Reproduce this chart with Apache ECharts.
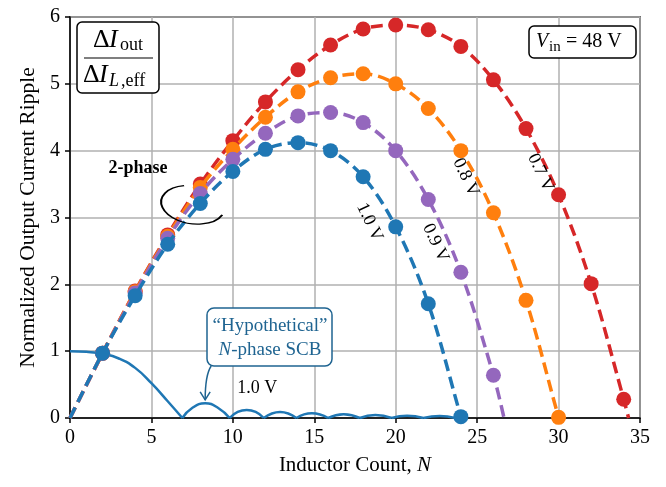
<!DOCTYPE html>
<html lang="en">
<head>
  <meta charset="UTF-8">
  <title>Normalized output current ripple</title>
  <script src="https://cdn.jsdelivr.net/npm/echarts@6/dist/echarts.min.js"></script>
  <style>
    body { margin: 0; background: #fff; }
  </style>
</head>
<body>
<div id="main" style="width: 666px;height:487px;"></div>
<script type="text/javascript">

  // measured points, N = 2, 4, 6 ...
  const nPoints = [2, 4, 6, 8, 10, 12, 14, 16, 18, 20, 22, 24, 26, 28, 30, 32, 34];
  const ripple07 = [0.97, 1.90, 2.74, 3.50, 4.15, 4.73, 5.21, 5.58, 5.82, 5.88, 5.81, 5.56, 5.06, 4.33, 3.34, 2.01, 0.28];
  const ripple08 = [0.97, 1.89, 2.72, 3.45, 4.02, 4.50, 4.88, 5.09, 5.15, 5.00, 4.63, 4.00, 3.07, 1.76, 0.01];
  const ripple09 = [0.97, 1.87, 2.69, 3.36, 3.87, 4.26, 4.52, 4.57, 4.42, 4.00, 3.27, 2.18, 0.64];
  const ripple10 = [0.97, 1.83, 2.60, 3.21, 3.69, 4.02, 4.12, 4.00, 3.61, 2.86, 1.71, 0.02];
  // where each dashed fit reaches the N axis again
  const fitEndN = [34.3, 30.05, 26.65, 24.05];
  const seriesNames = ['0.7 V', '0.8 V', '0.9 V', '1.0 V'];
  const colors = ['#d62728', '#ff7f0e', '#9467bd', '#1f77b4'];

  // "hypothetical" N-phase SCB curve (null = break between lobes)
  const scbN = [0, 1, 2, 3, 4, 5, 6, 6.9, 6.9, 6.9, 7.5, 8.3, 9.1, 9.8, 9.8,
    9.8, 10.3, 10.85, 11.4, 11.9, 11.9, 11.9, 12.9, 13.9, 13.9, 13.9, 14.85, 15.85, 15.85,
    15.85, 16.8, 17.8, 17.8, 17.8, 18.75, 19.75, 19.75, 19.75, 20.7, 21.7, 21.7, 21.7, 22.7, 23.65];
  const scbRipple = [1.0, 0.99, 0.96, 0.89, 0.75, 0.52, 0.25, 0, null, 0, 0.15, 0.22, 0.15, 0, null,
    0, 0.09, 0.12, 0.09, 0, null, 0, 0.09, 0, null, 0, 0.07, 0, null,
    0, 0.055, 0, null, 0, 0.045, 0, null, 0, 0.035, 0, null, 0, 0.03, 0];

  const xTicks = [0, 35, 5];   // min, max, interval
  const yTicks = [0, 6, 1];

  const serif = '"Liberation Serif", "DejaVu Serif", serif';
  var myChart = echarts.init(document.getElementById('main'));

  const ripples = [ripple07, ripple08, ripple09, ripple10];
  const fitSeries = ripples.map(function (vals, k) {
    let data = [{value: [0, 0], symbol: 'none'}];
    vals.forEach(function (v, i) { data.push([nPoints[i], v]); });
    data.push({value: [fitEndN[k], 0], symbol: 'none'});
    return {
      name: seriesNames[k],
      type: 'line',
      data: data,
      smooth: 0.35,
      symbol: 'circle',
      symbolSize: 15,
      showAllSymbol: true,
      color: colors[k],
      lineStyle: {width: 3.5, type: [12, 6]},
      itemStyle: {color: colors[k]},
      z: 3 + k,
      silent: true
    };
  });

  const scbSeries = {
    name: 'SCB',
    type: 'line',
    data: scbN.map(function (n, i) { return [n, scbRipple[i] === null ? '-' : scbRipple[i]]; }),
    smooth: 0.5,
    symbol: 'none',
    connectNulls: false,
    lineStyle: {width: 2.5, color: '#1f77b4'},
    z: 2,
    silent: true
  };

  const axisText = {color: '#000', fontFamily: serif, fontSize: 20};

  myChart.setOption({
    backgroundColor: '#fff',
    animation: false,
    grid: {left: 70, right: 26, top: 17, bottom: 69, show: true, borderColor: '#000', borderWidth: 1.5},
    xAxis: {
      type: 'value', min: xTicks[0], max: xTicks[1], interval: xTicks[2],
      name: 'Inductor Count, {i|N}', nameLocation: 'middle', nameGap: 37,
      nameTextStyle: Object.assign({}, axisText, {fontSize: 21, rich: {i: {fontStyle: 'italic', fontFamily: serif, fontSize: 21}}}),
      axisLine: {lineStyle: {color: '#000', width: 1.5}},
      axisTick: {length: 5, lineStyle: {color: '#000', width: 1.5}},
      axisLabel: Object.assign({margin: 10}, axisText),
      splitLine: {lineStyle: {color: '#b0b0b0', width: 1.5}}
    },
    yAxis: {
      type: 'value', min: yTicks[0], max: yTicks[1], interval: yTicks[2],
      name: 'Normalized Output Current Ripple', nameLocation: 'middle', nameGap: 30,
      nameTextStyle: Object.assign({}, axisText, {fontSize: 21.5}),
      axisLine: {lineStyle: {color: '#000', width: 1.5}},
      axisTick: {length: 5, lineStyle: {color: '#000', width: 1.5}},
      axisLabel: Object.assign({margin: 10}, axisText),
      splitLine: {lineStyle: {color: '#b0b0b0', width: 1.5}}
    },
    series: [scbSeries].concat(fitSeries)
  });

  // annotations
  function txt(x, y, s, size, extra) {
    return {
      type: 'text', x: x, y: y, z: 50,
      style: Object.assign({text: s, fontFamily: serif, fontSize: size, fill: '#000',
        align: 'left', verticalAlign: 'middle'}, extra || {})
    };
  }
  const px = function (n, v) { return myChart.convertToPixel({gridIndex: 0}, [n, v]); };

  let g = [];
  // fraction box
  g.push({type: 'rect', z: 40, shape: {x: 77, y: 22, width: 82, height: 71, r: 5},
    style: {fill: '#fff', stroke: '#000', lineWidth: 1.5}});
  g.push(txt(93, 40, 'Δ', 26));
  g.push(txt(109, 40, 'I', 26, {fontStyle: 'italic'}));
  g.push(txt(120, 45, 'out', 18));
  g.push({type: 'line', z: 50, shape: {x1: 84, y1: 58, x2: 153, y2: 58}, style: {stroke: '#000', lineWidth: 1.2}});
  g.push(txt(83, 75, 'Δ', 26));
  g.push(txt(99, 75, 'I', 26, {fontStyle: 'italic'}));
  g.push(txt(109, 81, 'L', 18, {fontStyle: 'italic'}));
  g.push(txt(121, 81, ',eff', 18));

  // Vin box
  g.push({type: 'rect', z: 40, shape: {x: 529, y: 26, width: 107, height: 32, r: 5},
    style: {fill: '#fff', stroke: '#000', lineWidth: 1.5}});
  g.push(txt(536, 42, 'V', 20, {fontStyle: 'italic'}));
  g.push(txt(549, 47, 'in', 15));
  g.push(txt(566, 42, '= 48 V', 20));

  // hypothetical SCB box + arrow
  const scbColor = '#1f6491';
  g.push({type: 'rect', z: 40, shape: {x: 207, y: 308, width: 125, height: 58, r: 7},
    style: {fill: '#fff', stroke: scbColor, lineWidth: 1.5}});
  g.push(txt(270, 326, '\u201CHypothetical\u201D', 19, {fill: scbColor, align: 'center'}));
  g.push(txt(270, 350, '{i|N}-phase SCB', 19, {fill: scbColor, align: 'center',
    rich: {i: {fontStyle: 'italic', fontFamily: serif, fontSize: 19, fill: scbColor}}}));
  const tip = px(8.3, 0.27);
  g.push({type: 'bezierCurve', z: 50,
    shape: {x1: tip[0] + 6, y1: 366, cpx1: tip[0], cpy1: 375, x2: tip[0], y2: tip[1]},
    style: {stroke: scbColor, lineWidth: 1.5, fill: null}});
  g.push({type: 'polyline', z: 50,
    shape: {points: [[tip[0] - 5, tip[1] - 8], tip, [tip[0] + 5, tip[1] - 8]]},
    style: {stroke: scbColor, lineWidth: 1.5, fill: null}});
  const lab = px(11.5, 0.45);
  g.push(txt(lab[0], lab[1], '1.0 V', 18, {align: 'center'}));

  // rotated voltage labels along the fits
  const labelAt = [[28.9, 3.67], [24.3, 3.6], [22.45, 2.62], [18.4, 2.93]];
  labelAt.forEach(function (p, k) {
    const q = px(p[0], p[1]);
    g.push({type: 'text', x: q[0], y: q[1], rotation: -1.13, z: 50,
      style: {text: seriesNames[k], fontFamily: serif, fontSize: 18, fill: '#000',
        align: 'center', verticalAlign: 'middle'}});
  });

  // 2-phase note: open ellipse round the N = 2 points
  const c2 = px(7.55, 3.19);
  g.push({type: 'arc', x: c2[0], y: c2[1], z: 50, scaleX: 32 / 19, rotation: -0.14,
    shape: {cx: 0, cy: 0, r: 19, startAngle: -111 * Math.PI / 180, endAngle: 18 * Math.PI / 180, clockwise: false},
    style: {stroke: '#000', lineWidth: 1.6, fill: null, strokeNoScale: true}});
  g.push(txt(138, 168, '2-phase', 18, {fontWeight: 'bold', align: 'center'}));

  myChart.setOption({graphic: g});

</script>
</body>
</html>
